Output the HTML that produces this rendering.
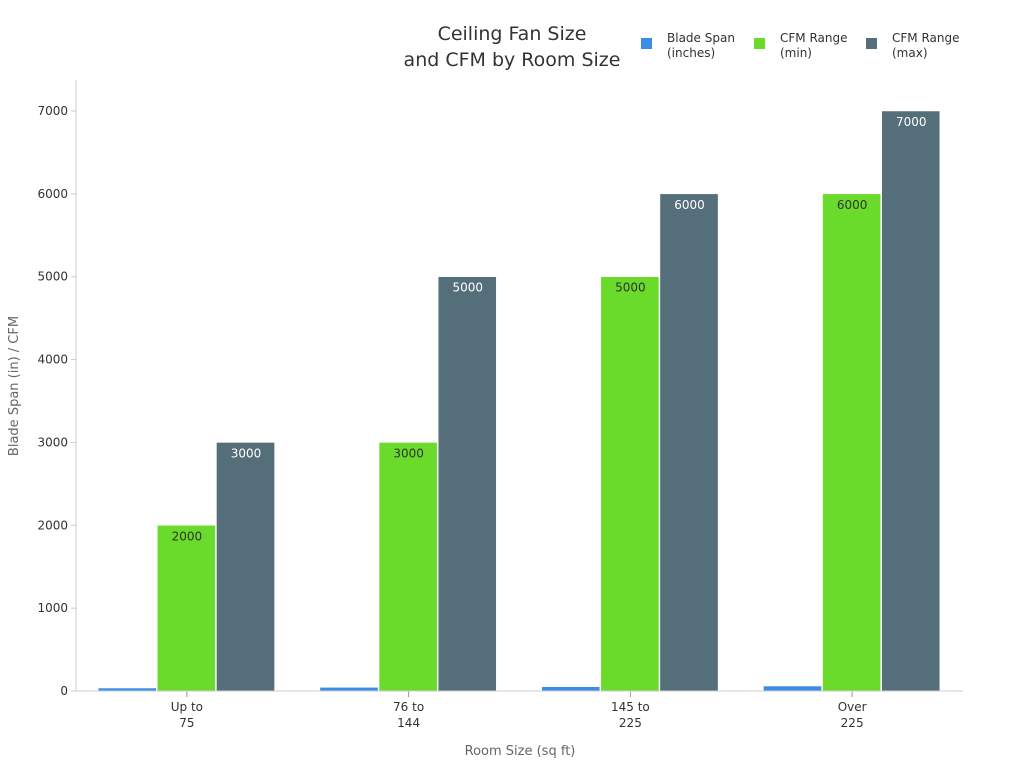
<!DOCTYPE html>
<html><head><meta charset="utf-8"><style>
body{margin:0;background:#fff;font-family:"Liberation Sans","DejaVu Sans",sans-serif}
</style></head><body>
<svg id="c" width="1024" height="768" xmlns="http://www.w3.org/2000/svg" font-family="DejaVu Sans, Liberation Sans, sans-serif">
<text x="512" y="40" text-anchor="middle" font-size="19" fill="#333">Ceiling Fan Size</text>
<text x="512" y="66" text-anchor="middle" font-size="19" fill="#333">and CFM by Room Size</text>
<text transform="translate(18,386) rotate(-90)" text-anchor="middle" font-size="13" fill="#666">Blade Span (in) / CFM</text>
<text x="520" y="755" text-anchor="middle" font-size="13" fill="#666">Room Size (sq ft)</text>
<g id="g"></g>
</svg>
<script>
const categories=[["Up to","75"],["76 to","144"],["145 to","225"],["Over","225"]];
const bladeSpan=[36,44,52,60];
const cfmMin=[2000,3000,5000,6000];
const cfmMax=[3000,5000,6000,7000];
const yTicks=[0,1000,2000,3000,4000,5000,6000,7000];
const seriesNames=[["Blade Span","(inches)"],["CFM Range","(min)"],["CFM Range","(max)"]];
const colors=["#3a8ee6","#6adb2a","#546e7a"];
const L=76,R=963,T=111,B=691,YMAX=7000;
const NS="http://www.w3.org/2000/svg";
const g=document.getElementById('g');
function y(v){return B-(v/YMAX)*(B-T);}
const band=(R-L)/categories.length;
function xc(i){return L+band*(i+0.5);}
function el(t,a,p){const e=document.createElementNS(NS,t);for(const k in a)e.setAttribute(k,a[k]);(p||g).appendChild(e);return e;}
const yl=el('line',{x1:L,x2:L,y1:80,y2:B,stroke:'#ccc'});


yTicks.forEach(v=>{
 const t=el('text',{x:L-8,y:y(v)+4,'text-anchor':'end','font-size':12,fill:'#333'});t.textContent=v;
 
 
 const tk=el('line',{x1:L-5,x2:L,y1:y(v),y2:y(v),stroke:'#ccc'});
 
 
});
const series=[bladeSpan,cfmMin,cfmMax];
const bw=band*0.8/3;
categories.forEach((c,i)=>{
 const x0=xc(i)-bw*1.5;
 series.forEach((s,j)=>{
  const v=s[i];
  const r=el('rect',{x:x0+j*bw,y:y(v),width:bw-1,height:B-y(v),fill:colors[j],stroke:'#fff','stroke-width':0.5});
  
  
  if(j>0){
   const t=el('text',{x:x0+j*bw+bw/2,y:y(v)+15,'text-anchor':'middle','font-size':12,fill:j==1?'#333':'#fff'});t.textContent=v;
   
   
  }
 });
 const tk=el('line',{x1:xc(i),x2:xc(i),y1:B,y2:B+6,stroke:'#999'});
 
 
 c.forEach((ln,k)=>{
  const t=el('text',{x:xc(i),y:711+k*16,'text-anchor':'middle','font-size':12,fill:'#333'});t.textContent=ln;
  
  
 });
});
const xl=el('line',{x1:L,x2:R,y1:B,y2:B,stroke:'#ccc'});


const lx=[641,754,866];
seriesNames.forEach((n,j)=>{
 const r=el('rect',{x:lx[j],y:38,width:11,height:11,fill:colors[j]});
 
 
 n.forEach((ln,k)=>{
  const t=el('text',{x:lx[j]+26,y:42+k*15,'font-size':12,fill:'#333'});t.textContent=ln;
  
  
 });
});
</script>
</body></html>
